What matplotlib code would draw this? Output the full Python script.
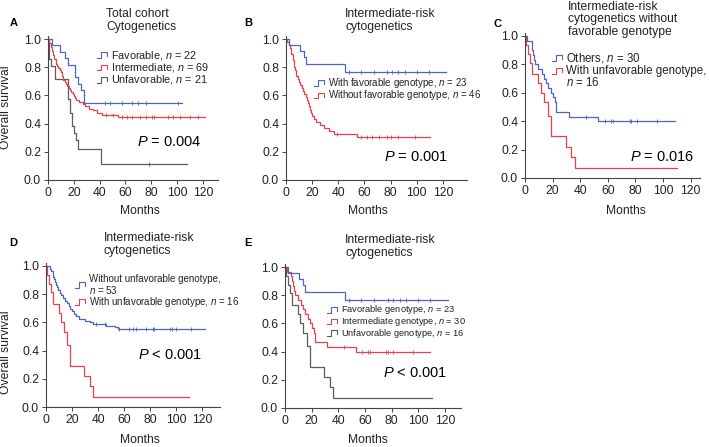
import numpy as np
import matplotlib
matplotlib.use('Agg')
import matplotlib.pyplot as plt
from matplotlib.lines import Line2D

plt.rcParams['font.family'] = 'Liberation Sans'
plt.rcParams['mathtext.fontset'] = 'custom'
plt.rcParams['mathtext.it'] = 'Liberation Sans:italic'
plt.rcParams['mathtext.rm'] = 'Liberation Sans'

W, H = 709, 447
BLUE, RED, GRAY = '#4d63c8', '#e8414c', '#5c5c5c'

# ---- survival step data (months, survival) ----
# total cohort
favA_t = [0, 2.8, 9.2, 13.1, 15.6, 20.8, 23.3, 25.9, 28]
favA_s = [1, .955, .909, .864, .818, .727, .682, .636, .545]
favA_cens = [44, 48, 57, 65, 70, 76, 101]
favA_end = 104
intA_t = [0, 1, 2, 3, 4, 5, 6, 7, 8, 9, 10, 11, 12, 13, 14, 15, 16, 17, 18, 19, 20, 21, 22, 24, 27, 29, 32, 35, 38, 42, 54]
intA_s = [1, .971, .942, .913, .884, .855, .826, .811, .797, .783, .768, .739, .71, .696, .681, .667, .652, .638, .623, .609,
          .594, .58, .565, .551, .536, .522, .507, .493, .478, .464, .45]
intA_cens = [45, 50, 57, 61, 65, 71, 76, 81, 82, 93, 97, 102, 110, 116]
intA_end = 122
unfA_t = [0, 0.8, 2.5, 5.5, 15.5, 17, 18.5, 20, 21.5, 23, 41]
unfA_s = [1, .857, .81, .714, .571, .476, .381, .333, .286, .222, .111]
unfA_cens = [78]
unfA_end = 108

# intermediate-risk: favorable genotype (n=23)
fav_t = [0, 2.3, 10.4, 13.7, 15, 44.8]
fav_s = [1, .957, .913, .870, .826, .765]
fav_cens = [48, 57, 67, 77, 81, 86, 91, 100, 109]
fav_end = 122
# without favorable genotype (n=46)
nofav_t = [0, 1, 2, 3, 4, 5, 6, 7, 8, 9, 10, 11, 12, 13, 14, 15, 16, 17, 17.7, 18.4, 19, 20, 21.5, 23, 26, 29, 33, 37, 54]
nofav_s = [1, .978, .957, .935, .891, .848, .804, .783, .739, .717, .696, .674, .652, .630, .609, .587, .565, .543, .522, .500,
           .478, .457, .435, .413, .391, .370, .348, .326, .304]
nofav_cens = [39, 57, 62, 66, 71, 77, 80, 86, 99]
nofav_end = 110
# others / intermediate genotype (n=30)
oth_t = [0, 1.4, 4.8, 5.3, 5.8, 6.5, 7.5, 9.5, 12, 13.5, 15, 17, 19, 20.5, 21.5, 22.5, 31.6, 53]
oth_s = [1, .967, .933, .9, .867, .833, .8, .767, .733, .7, .667, .633, .6, .567, .533, .467, .433, .4]
oth_cens = [44, 58, 62, 64, 76, 77, 81, 96]
oth_end = 109
# unfavorable genotype (n=16)
unf_t = [0, 1, 2, 3.5, 5, 9.7, 11.5, 13.5, 16.5, 18.5, 29.5, 33.5, 36]
unf_s = [1, .938, .875, .813, .733, .667, .6, .533, .44, .293, .22, .147, .073]
unf_cens = []
unf_end = 110
# without unfavorable genotype (n=53)
nounf_t = [0, 2.8, 4, 5, 5.5, 6, 6.7, 7.5, 8.5, 9.2, 10.5, 11.8, 13, 14.4, 16, 17.5, 18.5, 20, 21.5, 23, 25, 29.7, 33.6, 36, 46, 52.8, 55.4]
nounf_s = [1, .981, .962, .943, .925, .906, .887, .868, .849, .83, .811, .792, .774, .755, .736, .717, .698, .679, .66, .642,
           .623, .613, .601, .589, .577, .564, .551]
nounf_cens = [38.5, 45, 56, 64, 67, 69, 77, 82, 83, 95, 97, 100, 111.5]
nounf_end = 122

xticks = [0, 20, 40, 60, 80, 100, 120]
yticks = [0.0, 0.2, 0.4, 0.6, 0.8, 1.0]

fig = plt.figure(figsize=(W / 100, H / 100), dpi=100)
fx = lambda x: x / W
fy = lambda y: 1 - y / H
FS = 8.7


def panel(x0, y0, y1, pxm, xmax):
    h = (y0 - y1) * 1.02
    ax = fig.add_axes([fx(x0), fy(y0), xmax * pxm / W, h / H])
    ax.set_xlim(0, xmax); ax.set_ylim(0, 1.02)
    for s in ('top', 'right'): ax.spines[s].set_visible(False)
    for s in ('left', 'bottom'):
        ax.spines[s].set_color('#444444'); ax.spines[s].set_linewidth(0.8)
    ax.set_xticks(xticks); ax.set_yticks(yticks)
    ax.set_yticklabels([f'{v:.1f}' for v in yticks])
    ax.tick_params(direction='out', length=3, width=0.7, color='#444444', labelsize=FS, pad=2, labelcolor='#222222')
    return ax


def km(ax, t, s, cens, end, color):
    ax.plot(list(t) + [end], list(s) + [s[-1]], drawstyle='steps-post', color=color, lw=0.9, clip_on=False)
    if len(cens):
        idx = np.searchsorted(t, cens, side='right') - 1
        ax.plot(cens, np.array(s)[idx], ls='none', marker='|', ms=3.5, mew=0.6, color=color)


def legend(x, y, rows, fs, dy):
    for i, (c, lab) in enumerate(rows):
        yy = y + i * dy
        xs = [x, x + 3.5, x + 3.5, x + 10, x + 10]
        ys = [yy + 2.5, yy + 2.5, yy - 3, yy - 3, yy + 1]
        fig.add_artist(Line2D([fx(v) for v in xs], [fy(v) for v in ys], color=c, lw=0.8, transform=fig.transFigure))
        if lab:
            fig.text(fx(x + 14), fy(yy), lab, fontsize=fs, va='center', ha='left', color='#222222')


def title(x, y, txt, letter, lx, ly):
    fig.text(fx(x), fy(y), txt, fontsize=FS, ha='left', va='top', linespacing=1.15, color='#222222')
    fig.text(fx(lx), fy(ly), letter, fontsize=8, fontweight='bold', ha='center', va='center')


# A
axA = panel(48, 180, 39, 1.29, 132)
km(axA, unfA_t, unfA_s, unfA_cens, unfA_end, GRAY)
km(axA, intA_t, intA_s, intA_cens, intA_end, RED)
km(axA, favA_t, favA_s, favA_cens, favA_end, BLUE)
title(106, 8, 'Total cohort\nCytogenetics', 'A', 14, 23)
legend(97, 55, [(BLUE, 'Favorable, $n$ = 22'), (RED, 'Intermediate, $n$ = 69'), (GRAY, 'Unfavorable, $n$ = 21')], 7.8, 12.5)
fig.text(fx(137), fy(142), '$P$ = 0.004', fontsize=10.5, va='center')

# B
axB = panel(286, 180, 39, 1.308, 138)
km(axB, nofav_t, nofav_s, nofav_cens, nofav_end, RED)
km(axB, fav_t, fav_s, fav_cens, fav_end, BLUE)
title(345, 8, 'Intermediate-risk\ncytogenetics', 'B', 248, 23)
legend(314, 83, [(BLUE, 'With favorable genotype, $n$ = 23'), (RED, 'Without favorable genotype, $n$ = 46')], 7.0, 12.5)
fig.text(fx(384), fy(157), '$P$ = 0.001', fontsize=10.5, va='center')

# C
axC = panel(525, 178, 36, 1.38, 127)
km(axC, unf_t, unf_s, unf_cens, unf_end, RED)
km(axC, oth_t, oth_s, oth_cens, oth_end, BLUE)
fig.text(fx(568), fy(0.5), 'Intermediate-risk\ncytogenetics without\nfavorable genotype', fontsize=FS, ha='left', va='top',
         linespacing=1.1, color='#222222')
fig.text(fx(497), fy(24), 'C', fontsize=8, fontweight='bold', ha='center', va='center')
legend(552, 58, [(BLUE, 'Others, $n$ = 30'), (RED, 'With unfavorable genotype,')], 8.3, 13)
fig.text(fx(566), fy(83), '$n$ = 16', fontsize=8.3, va='center', color='#222222')
fig.text(fx(630), fy(157), '$P$ = 0.016', fontsize=10.5, va='center')

# D
axD = panel(46, 407, 266, 1.3, 134)
km(axD, unf_t, unf_s, unf_cens, unf_end, RED)
km(axD, nounf_t, nounf_s, nounf_cens, nounf_end, BLUE)
title(104, 232, 'Intermediate-risk\ncytogenetics', 'D', 13, 243)
legend(75, 285, [(BLUE, ''), (RED, 'With unfavorable genotype, $n$ = 16')], 7.0, 17)
fig.text(fx(89), fy(279.5), 'Without unfavorable genotype,', fontsize=7.0, va='center', color='#222222')
fig.text(fx(89), fy(290.5), '$n$ = 53', fontsize=7.0, va='center', color='#222222')
fig.text(fx(138), fy(355), '$P$ < 0.001', fontsize=10.5, va='center')

# E
axE = panel(285, 408, 267, 1.333, 132)
km(axE, unf_t, unf_s, unf_cens, unf_end, GRAY)
km(axE, oth_t, oth_s, oth_cens, oth_end, RED)
km(axE, fav_t, fav_s, fav_cens, fav_end, BLUE)
title(345, 234, 'Intermediate-risk\ncytogenetics', 'E', 248, 243)
legend(327, 310, [(BLUE, 'Favorable genotype, $n$ = 23'), (RED, 'Intermediate genotype, $n$ = 30'),
                  (GRAY, 'Unfavorable genotype, $n$ = 16')], 6.7, 11.5)
fig.text(fx(383), fy(373), '$P$ < 0.001', fontsize=10.5, va='center')

# axis labels
for x, y in [(140, 211), (368, 211), (626, 211), (140, 440), (368, 440)]:
    fig.text(fx(x), fy(y), 'Months', fontsize=FS, ha='center', va='center', color='#222222')
for y in [107, 352]:
    fig.text(fx(6), fy(y), 'Overall survival', fontsize=FS, rotation=90, ha='center', va='center', color='#222222')

fig.savefig('out.png', dpi=100)
